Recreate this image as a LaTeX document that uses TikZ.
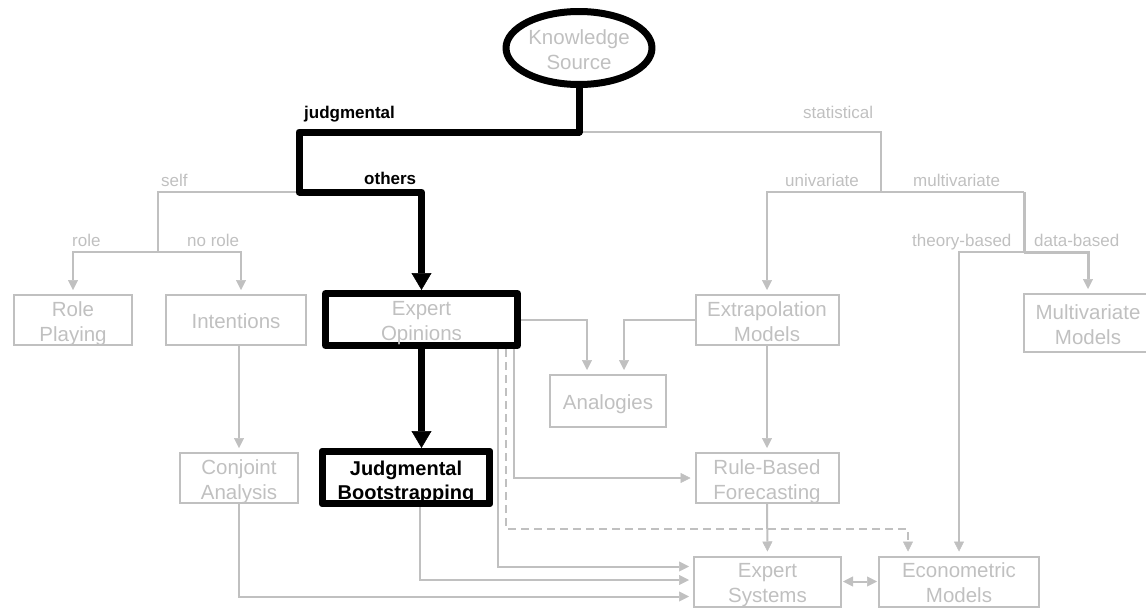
\documentclass[tikz,border=0pt]{standalone}
\usepackage{fontspec}
\setmainfont{Liberation Sans}
\usetikzlibrary{arrows.meta,shapes.geometric}
\definecolor{fcgray}{HTML}{C0C0C0}
\newcommand{\boxlbl}[2][3.5pt]{\raisebox{-#1}[\height][\depth]{\begin{tabular}{@{}c@{}}#2\end{tabular}}}

\tikzset{
  gbox/.style={draw=fcgray, line width=2pt, text=fcgray, inner sep=0pt, font=\fontsize{20.5}{25}\selectfont},
  kbox/.style={draw=black, line width=7pt, line join=round, inner sep=0pt},
  glbl/.style={text=fcgray, font=\fontsize{17}{20}\selectfont, anchor=base west, inner sep=0pt},
  klbl/.style={text=black, font=\fontsize{17}{20}\selectfont\bfseries, anchor=base west, inner sep=0pt},
  gline/.style={draw=fcgray, line width=2pt},
  garrow/.style={gline, -{Triangle[width=10pt,length=10pt,line width=0.5pt]}, shorten >=4pt},
  karrow/.style={draw=black, line width=7pt, line join=round, -{Triangle[width=20pt,length=17pt,line width=0.5pt]}},
}

\begin{document}
\begin{tikzpicture}[x=1pt,y=-1pt]
\useasboundingbox (0,0) rectangle (1146,608);

\node[kbox, ellipse, text=fcgray, font=\fontsize{20.5}{25}\selectfont, minimum width=146pt, minimum height=73pt] (KS) at (579,48) {\boxlbl{Knowledge\\Source}};

\node[gbox, minimum width=118pt, minimum height=50pt] (RP) at (73,320) {\boxlbl{Role\\Playing}};
\node[gbox, minimum width=140pt, minimum height=50pt] (Int) at (236,320) {\boxlbl{Intentions}};
\node[kbox, text=fcgray, font=\fontsize{20.5}{25}\selectfont, minimum width=192pt, minimum height=52pt] (EO) at (421.5,319.5) {\boxlbl{Expert\\Opinions}};
\node[gbox, minimum width=143pt, minimum height=50pt] (EM) at (767,320) {\boxlbl{Extrapolation\\Models}};
\node[gbox, minimum width=128pt, minimum height=58pt] (MM) at (1088,323) {\boxlbl{Multivariate\\Models}};
\node[gbox, minimum width=116pt, minimum height=52pt] (An) at (608,401) {\boxlbl{Analogies}};
\node[gbox, minimum width=118pt, minimum height=50pt] (CA) at (239,478) {\boxlbl{Conjoint\\Analysis}};
\node[kbox, fill=white, font=\fontsize{20}{24}\selectfont\bfseries, minimum width=167pt, minimum height=52pt] (JB) at (406,477.5) {\boxlbl[5.5pt]{Judgmental\\Bootstrapping}};
\draw[line width=7pt, line join=round] ([shift={(3.5pt,3.5pt)}]JB.south west) rectangle ([shift={(-3.5pt,-3.5pt)}]JB.north east);
\node[gbox, minimum width=143pt, minimum height=50pt] (RB) at (767,478) {\boxlbl{Rule-Based\\Forecasting}};
\node[gbox, minimum width=147pt, minimum height=49pt] (ES) at (767.5,581.5) {\boxlbl{Expert\\Systems}};
\node[gbox, minimum width=160pt, minimum height=49pt] (Ec) at (959,581.5) {\boxlbl{Econometric\\Models}};

\node[klbl] (jdl) at (304,118) {judgmental};
\node[klbl] (othl) at (364,184) {others};
\node[glbl] (slfl) at (161,186) {self};
\node[glbl] (rolel) at (72,246) {role};
\node[glbl] (nrolel) at (187,246) {no role};
\node[glbl] (statl) at (803,118) {statistical};
\node[glbl] (unil) at (785,186) {univariate};
\node[glbl] (multil) at (913,186) {multivariate};
\node[glbl] (theol) at (912,246) {theory-based};
\node[glbl] (datal) at (1034,246) {data-based};

\coordinate (root) at (579,132);
\coordinate (jdg) at (299,132);
\coordinate (oth) at (299,192);
\coordinate (slf) at (158,252);
\coordinate (stat) at (881,192);
\coordinate (multi) at (1024,192);
\coordinate (mtb) at (1024,252);
\coordinate (dsh) at (908,529);

\draw[gline] (root) -| (stat);
\draw[garrow] (multi) -| (EM.north);
\draw[gline, line width=3pt] (multi) -- (mtb);
\draw[garrow] (mtb) -| (Ec.north);
\draw[garrow, line width=3pt] (mtb) -| (MM.north);
\draw[gline] (oth) -| (slf);
\draw[garrow] (slf) -| (RP.north);
\draw[garrow] (slf) -| ([xshift=5pt]Int.north);
\draw[garrow] (CA.north |- Int.south) -- (CA.north);
\draw[garrow] (EO.east) -| ([xshift=-21pt]An.north);
\draw[garrow] (EM.west) -| ([xshift=16pt]An.north);
\draw[garrow] (EM.south) -- (RB.north);
\draw[garrow] (RB.south) -- (ES.north);
\draw[garrow] ([xshift=-7pt]EO.south east) |- (RB.west);
\draw[garrow] ([xshift=-23.5pt]EO.south east) |- ([yshift=15pt]ES.west);
\draw[garrow] ([xshift=14pt]JB.south) |- ([yshift=1.5pt]ES.west);
\draw[garrow] (CA.south) |- ([yshift=-15pt]ES.west);
\draw[garrow, dash pattern=on 8pt off 5pt] ([xshift=-15pt]EO.south east) |- (dsh) -- (dsh |- Ec.north);
\draw[gline, {Triangle[width=10pt,length=10pt,line width=0.5pt]}-{Triangle[width=10pt,length=10pt,line width=0.5pt]}, shorten <=1pt, shorten >=1pt] (ES.east) -- (Ec.west);

\draw[karrow] (KS.south) |- (jdg) -- (oth) -| (EO.north);
\draw[karrow] (EO.south) -- (EO.south |- JB.north);
\end{tikzpicture}
\end{document}
